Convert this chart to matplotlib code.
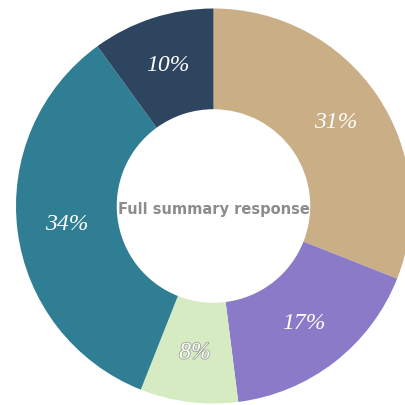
import matplotlib
matplotlib.use("Agg")
import matplotlib.pyplot as plt
import matplotlib.patheffects as pe

# Share of responses by category, clockwise from 12 o'clock
labels = ["31%", "17%", "8%", "34%", "10%"]
values = [31, 17, 8, 34, 10]
colors = ["#c9ae86", "#8a7ac8", "#d6ebc2", "#2f7e93", "#2e4560"]
center_title = "Full summary response"

fig = plt.figure(figsize=(4.05, 4.05), dpi=100)
ax = fig.add_axes([0, 0, 1, 1])

wedges, texts = ax.pie(
    values,
    colors=colors,
    startangle=90,
    counterclock=False,
    radius=1.0,
    labels=labels,
    labeldistance=0.75,
    wedgeprops=dict(width=0.51, edgecolor="none"),
    textprops=dict(color="white", fontsize=17, family="Liberation Serif",
                   style="italic", ha="center", va="center"),
)
# the pale slice gets a faint outline so its label stays legible
texts[2].set_path_effects([pe.withStroke(linewidth=1.2, foreground="#9aa39a")])

ax.text(0, -0.02, center_title, ha="center", va="center", fontsize=10.5,
        fontweight="bold", color="#8c8c8c", family="DejaVu Sans")

# place the ring centre and scale within the square canvas
cx, cy, r = 213.5, 206.0, 197.5
ax.set_xlim(-cx / r, (405 - cx) / r)
ax.set_ylim(-(405 - cy) / r, cy / r)
ax.set_aspect("equal")
ax.axis("off")

fig.savefig("out.png", dpi=100, facecolor="white")
